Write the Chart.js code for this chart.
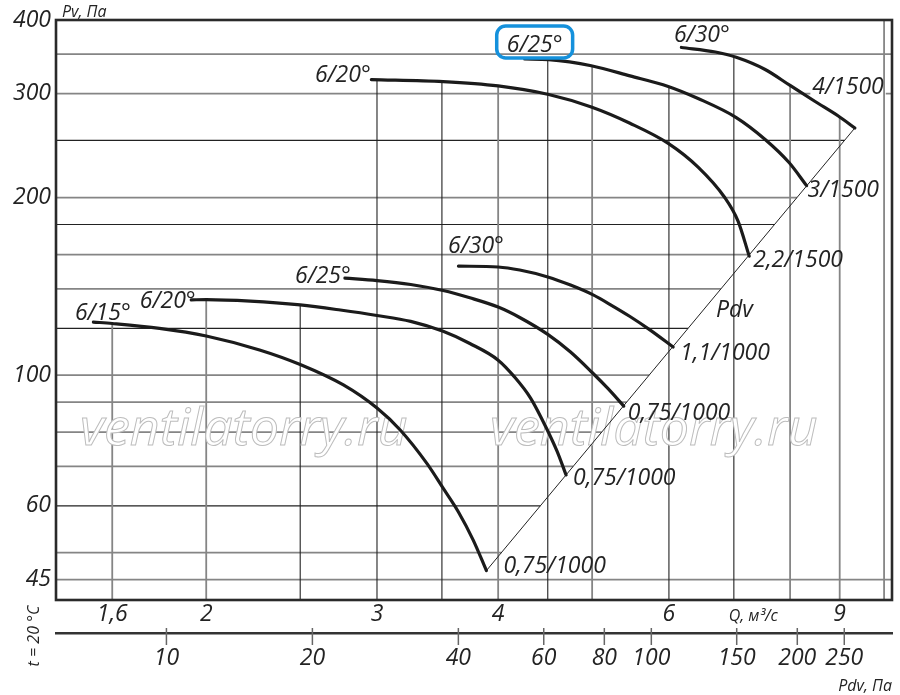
<!DOCTYPE html>
<html>
<head>
<meta charset="utf-8">
<script src="https://cdn.jsdelivr.net/npm/chart.js@4/dist/chart.umd.min.js"></script>
<style>
  html, body { margin: 0; padding: 0; background: #fff; }
  #wrap { width: 900px; height: 695px; }
</style>
</head>
<body>
<div id="wrap"><canvas id="chart" width="900" height="695"></canvas></div>
<script>
// Q, м³/с  /  Pv, Па
const qD = [1.53, 1.60, 1.79, 2.00, 2.27, 2.50, 2.77, 3.00, 3.17, 3.38, 3.51, 3.64, 3.77, 3.89];
const pD = [123, 122.3, 120, 116.5, 110.3, 104.2, 96.2, 87.9, 80.7, 70.7, 64.3, 58.6, 52.5, 46.6];

const qE = [1.93, 2.00, 2.22, 2.50, 2.75, 3.00, 3.25, 3.51, 3.74, 4.00, 4.16, 4.32, 4.50, 4.60, 4.70];
const pE = [134.1, 134.3, 133.5, 131.5, 128.9, 126.2, 123.3, 118.6, 113.1, 106.0, 99.2, 91.4, 80.4, 74.3, 67.7];

const qF = [2.78, 3.00, 3.25, 3.51, 3.74, 4.00, 4.21, 4.50, 4.75, 5.00, 5.19, 5.39];
const pF = [146.0, 144.6, 142.4, 139.1, 135.2, 130.4, 125.2, 117.2, 109.4, 101.0, 94.9, 88.6];

const qG = [3.64, 4.00, 4.21, 4.50, 4.75, 5.00, 5.24, 5.47, 5.74, 6.06];
const pG = [153.0, 152.5, 150.7, 146.7, 142.1, 137.0, 131.2, 125.7, 119.2, 111.6];

const qA = [2.96, 3.51, 4.00, 4.51, 4.99, 5.47, 5.99, 6.43, 6.85, 7.07, 7.26];
const pA = [317, 314.5, 309.2, 299.0, 284.8, 267.3, 247.1, 225.2, 200, 182.4, 159.1];

const qB = [4.26, 4.51, 4.99, 5.47, 5.99, 6.43, 7.04, 7.54, 7.98, 8.32];
const pB = [343.5, 342.6, 334.5, 321.6, 308.6, 294.4, 273.3, 250.9, 229.3, 209.5];

const qC = [6.18, 6.70, 7.04, 7.54, 8.00, 8.49, 8.97, 9.33];
const pC = [359.3, 353.0, 345.8, 329.7, 309.8, 291.0, 275.0, 262.4];

// Pdv line (ends of the curves)
const qPdv = [3.89, 9.33];
const pPdv = [46.6, 262.4];

// axes
const qTicks = [1.6, 2, 3, 4, 6, 9];
const pvTicks = [45, 60, 100, 200, 300, 400];
const pdvTicks = [10, 20, 40, 60, 80, 100, 150, 200, 250];
const qGridDark = [2.5, 3, 3.5, 4.5, 6, 7];
const qGridLight = [1.6, 2, 4, 5, 8, 9, 10];
const pvGridDark = [60, 120, 180, 250];
const pvGridLight = [45, 50, 70, 80, 90, 100, 140, 160, 200, 300, 350];

const qMin = 1.40, qMax = 10.19;
const pvMin = 41.55, pvMax = 400;
const pdvPerQ2 = 3.02;   // Pdv scale lines up with Q scale

const curves = [
  { blade: '6/15°', motor: '0,75/1000', q: qD, p: pD },
  { blade: '6/20°', motor: '0,75/1000', q: qE, p: pE },
  { blade: '6/25°', motor: '0,75/1000', q: qF, p: pF },
  { blade: '6/30°', motor: '1,1/1000',  q: qG, p: pG },
  { blade: '6/20°', motor: '2,2/1500',  q: qA, p: pA },
  { blade: '6/25°', motor: '3/1500',    q: qB, p: pB },
  { blade: '6/30°', motor: '4/1500',    q: qC, p: pC }
];

// label offsets (px) from first / last point
const labelPos = [
  { s: [9.5, -2],    e: [17, 2] },
  { s: [-23.5, 8],   e: [7, 10] },
  { s: [-22, 5],     e: [4, 14] },
  { s: [17.5, -13],  e: [7, 13] },
  { s: [-28.5, 2.5], e: [4, 11] },
  { s: [10, -7],     e: [1, 11], box: true },
  { s: [20.5, -5.5], e: [-42.5, -33.5], knock: true }
];

const FONT = "'Open Sans', 'DejaVu Sans', sans-serif";
const INK = '#232323';
const big = "italic 23px " + FONT;
const small = "italic 16px " + FONT;

function fmt(v) { return String(v).replace('.', ','); }

function yOnLine(pts, px) {
  if (px < pts[0].x || px > pts[pts.length - 1].x) return null;
  for (let i = 1; i < pts.length; i++) {
    if (px <= pts[i].x) {
      const t = (px - pts[i - 1].x) / (pts[i].x - pts[i - 1].x);
      return pts[i - 1].y + t * (pts[i].y - pts[i - 1].y);
    }
  }
  return null;
}

// сетка: вертикали до огибающей кривых, горизонтали до линии Pdv
const fanGrid = {
  id: 'fanGrid',
  beforeDatasetsDraw(chart) {
    const { ctx, chartArea: a, scales: { x, y, x2 } } = chart;
    const metas = curves.map((c, i) => chart.getDatasetMeta(i).data);
    const pdv = chart.getDatasetMeta(curves.length).data;
    const lo = pdv[0], hi = pdv[1];

    ctx.save();

    const hLine = (v, color, w) => {
      const py = y.getPixelForValue(v);
      let xr = a.right;
      if (py <= lo.y && py >= hi.y) xr = lo.x + (py - lo.y) / (hi.y - lo.y) * (hi.x - lo.x);
      ctx.strokeStyle = color; ctx.lineWidth = w;
      ctx.beginPath(); ctx.moveTo(a.left, py); ctx.lineTo(xr, py); ctx.stroke();
    };
    pvGridLight.forEach(v => hLine(v, '#858585', 1.8));
    pvGridDark.forEach(v => hLine(v, '#222', 1.1));

    // label knock-out
    ctx.font = big;
    labelPos.forEach((l, i) => {
      if (!l.knock) return;
      const pts = metas[i];
      const p = pts[pts.length - 1];
      const w = ctx.measureText(curves[i].motor).width;
      ctx.fillStyle = '#fff';
      ctx.fillRect(p.x + l.e[0] - 2, p.y + l.e[1] - 21, w + 4, 26);
    });

    const vLine = (v, color, w) => {
      const px = x.getPixelForValue(v);
      let top = a.top;
      let hit = false;
      metas.forEach(pts => {
        const yy = yOnLine(pts, px);
        if (yy !== null) { top = hit ? Math.min(top, yy) : yy; hit = true; }
      });
      ctx.strokeStyle = color; ctx.lineWidth = w;
      ctx.beginPath(); ctx.moveTo(px, top); ctx.lineTo(px, a.bottom); ctx.stroke();
    };
    qGridLight.forEach(v => vLine(v, '#858585', 1.8));
    qGridDark.forEach(v => vLine(v, '#222', 1.1));

    // watermark
    ctx.font = "italic 52px " + FONT;
    ctx.lineWidth = 1;
    ctx.strokeStyle = '#bdbdbd';
    ctx.fillStyle = '#fff';
    [80, 490].forEach(wx => {
      ctx.fillText('ventilatorry.ru', wx, 445);
      ctx.strokeText('ventilatorry.ru', wx, 445);
    });

    // frame
    ctx.strokeStyle = '#2a2a2a';
    ctx.lineWidth = 2.6;
    ctx.strokeRect(a.left, a.top, a.right - a.left, a.bottom - a.top);

    // Pdv axis ticks
    ctx.strokeStyle = '#666';
    ctx.lineWidth = 1.5;
    pdvTicks.forEach(v => {
      const px = x2.getPixelForValue(v);
      ctx.beginPath(); ctx.moveTo(px, x2.top - 5); ctx.lineTo(px, x2.top + 12); ctx.stroke();
    });

    ctx.restore();
  },

  afterDatasetsDraw(chart) {
    const { ctx, chartArea: a, scales: { x, y, x2 } } = chart;
    ctx.save();
    ctx.fillStyle = INK;
    ctx.font = big;
    ctx.textBaseline = 'alphabetic';

    curves.forEach((c, i) => {
      const pts = chart.getDatasetMeta(i).data;
      const s = pts[0], e = pts[pts.length - 1];
      const l = labelPos[i];
      ctx.textAlign = 'center';
      const bx = s.x + l.s[0], by = s.y + l.s[1];
      ctx.fillText(c.blade, bx, by);
      if (l.box) {
        const w = ctx.measureText(c.blade).width;
        ctx.save();
        ctx.strokeStyle = '#1591dc';
        ctx.lineWidth = 3.5;
        ctx.beginPath();
        ctx.roundRect(bx - w / 2 - 10, by - 26, w + 20, 32, 9);
        ctx.stroke();
        ctx.restore();
      }
      ctx.textAlign = 'left';
      ctx.fillText(c.motor, e.x + l.e[0], e.y + l.e[1]);
    });

    // Pdv line label
    ctx.textAlign = 'left';
    ctx.fillText('Pdv', x.getPixelForValue(6.71), y.getPixelForValue(125.6));

    ctx.font = small;
    ctx.textAlign = 'left';
    ctx.fillText('Pv, Па', a.left + 6, a.top - 3);
    ctx.textAlign = 'center';
    ctx.fillText('Q, м³/с', x.getPixelForValue(7.33), a.bottom + 21);
    ctx.textAlign = 'right';
    ctx.fillText('Pdv, Па', a.right, chart.height - 4);

    ctx.translate(34, x2.top + 3);
    ctx.rotate(-Math.PI / 2);
    ctx.textAlign = 'center';
    ctx.textBaseline = 'middle';
    ctx.fillText('t = 20 °C', 0, 0);
    ctx.restore();
  }
};

const datasets = curves.map(c => ({
  data: c.q.map((v, i) => ({ x: v, y: c.p[i] })),
  borderColor: '#1b1b1b',
  borderWidth: 3.2,
  pointRadius: 0,
  cubicInterpolationMode: 'monotone',
  borderCapStyle: 'round',
  fill: false
}));
datasets.push({
  data: qPdv.map((v, i) => ({ x: v, y: pPdv[i] })),
  borderColor: '#222',
  borderWidth: 1,
  pointRadius: 0,
  tension: 0,
  fill: false
});

new Chart(document.getElementById('chart'), {
  type: 'line',
  data: { datasets },
  options: {
    responsive: false,
    animation: false,
    events: [],
    layout: { padding: { left: 0, top: 20, right: 8, bottom: 0 } },
    plugins: { legend: { display: false }, tooltip: { enabled: false } },
    scales: {
      x: {
        type: 'logarithmic',
        position: 'bottom',
        min: qMin, max: qMax,
        grid: { display: false, drawTicks: false },
        border: { display: false },
        afterBuildTicks: s => { s.ticks = qTicks.map(v => ({ value: v })); },
        afterFit: s => { s.height = 33; },
        ticks: {
          autoSkip: false, maxRotation: 0, padding: 1,
          color: INK, font: { family: FONT, size: 23, style: 'italic' },
          callback: v => fmt(v)
        }
      },
      x2: {
        type: 'logarithmic',
        position: 'bottom',
        weight: 1,
        min: pdvPerQ2 * qMin * qMin, max: pdvPerQ2 * qMax * qMax,
        grid: { display: true, drawOnChartArea: false, drawTicks: false },
        border: { display: true, color: '#333', width: 2.5 },
        afterBuildTicks: s => { s.ticks = pdvTicks.map(v => ({ value: v })); },
        afterFit: s => { s.height = 62; },
        ticks: {
          autoSkip: false, maxRotation: 0, padding: 12,
          color: INK, font: { family: FONT, size: 23, style: 'italic' },
          callback: v => fmt(v)
        }
      },
      y: {
        type: 'logarithmic',
        position: 'left',
        min: pvMin, max: pvMax,
        grid: { display: false, drawTicks: false },
        border: { display: false },
        afterBuildTicks: s => { s.ticks = pvTicks.map(v => ({ value: v })); },
        afterFit: s => { s.width = 56; },
        ticks: {
          autoSkip: false, padding: 5,
          color: INK, font: { family: FONT, size: 23, style: 'italic' },
          callback: v => fmt(v)
        }
      }
    }
  },
  plugins: [fanGrid]
});
</script>
</body>
</html>
